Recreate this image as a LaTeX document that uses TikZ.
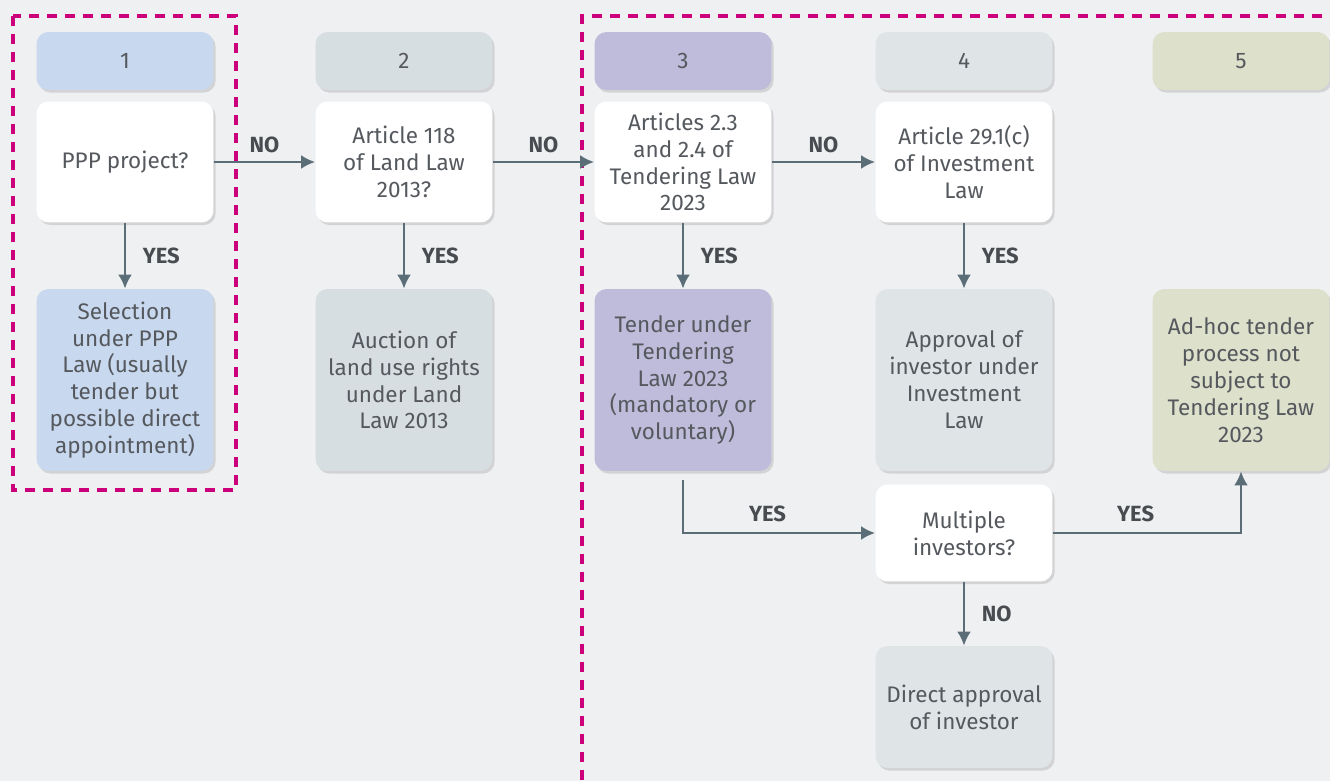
\documentclass[tikz,border=0pt]{standalone}
\usepackage{fontspec}
\setmainfont{Fira Sans}
\usetikzlibrary{arrows.meta,shadows}

\definecolor{pagebg}{HTML}{EFF0F2}
\definecolor{colone}{HTML}{C8D8EE}
\definecolor{coltwo}{HTML}{D7DEE2}
\definecolor{colthree}{HTML}{BFBBDA}
\definecolor{colfour}{HTML}{DFE5E7}
\definecolor{colfive}{HTML}{DDE0CB}
\definecolor{linkgray}{HTML}{5B6E78}
\definecolor{frame}{HTML}{CC007A}
\definecolor{txtgray}{HTML}{55595E}

\begin{document}
\begin{tikzpicture}[x=0.02cm,y=-0.02cm,
    every node/.style={text=txtgray,font=\fontsize{12.8}{15.3}\selectfont},
    box/.style={rounded corners=0.24cm,minimum width=3.54cm,align=center,
      inner sep=0pt,drop shadow={shadow xshift=1.2pt,shadow yshift=-1.5pt,opacity=0.25}},
    head/.style={box,minimum height=1.16cm},
    ask/.style={box,fill=white,minimum height=2.42cm},
    result/.style={box,minimum height=3.64cm},
    arr/.style={draw=linkgray,line width=1.6pt,-{Latex[length=8pt,width=8pt]}},
    tag/.style={font=\fontsize{12.5}{15}\selectfont\bfseries,text=txtgray!85!black},
    zone/.style={draw=frame,line width=2.3pt,dash pattern=on 0.2cm off 0.16cm}]
  \useasboundingbox[fill=pagebg] (0,0) rectangle (1330,781);

  % dashed zones
  \draw[zone] (13,16) rectangle (236,490);
  \draw[zone] (1340,16) -- (582,16) -- (582,790);

  % column headers
  \node[head,fill=colone]   (h1) at (125,61)  {1};
  \node[head,fill=coltwo]   (h2) at (404,61)  {2};
  \node[head,fill=colthree] (h3) at (683,61)  {3};
  \node[head,fill=colfour]  (h4) at (964,61)  {4};
  \node[head,fill=colfive]  (h5) at (1241,61) {5};

  % questions
  \node[ask] (q1) at (125,162) {PPP project?};
  \node[ask] (q2) at (404,162) {Article 118\\of Land Law\\2013?};
  \node[ask] (q3) at (683,162) {Articles 2.3\\and 2.4 of\\Tendering Law\\2023};
  \node[ask] (q4) at (964,162) {Article 29.1(c)\\of Investment\\Law};

  % outcomes
  \node[result,fill=colone]   (r1) at (125,380)  {Selection\\under PPP\\Law (usually\\tender but\\possible direct\\appointment)};
  \node[result,fill=coltwo]   (r2) at (404,380)  {Auction of\\land use rights\\under Land\\Law 2013};
  \node[result,fill=colthree] (r3) at (683,380)  {Tender under\\Tendering\\Law 2023\\(mandatory or\\voluntary)};
  \node[result,fill=colfour]  (r4) at (964,380)  {Approval of\\investor under\\Investment\\Law};
  \node[result,fill=colfive]  (r5) at (1241,380) {Ad-hoc tender\\process not\\subject to\\Tendering Law\\2023};

  \node[ask,minimum height=1.94cm] (multi) at (964,533) {Multiple\\investors?};
  \node[result,fill=colfour,minimum height=2.44cm] (direct) at (964,707) {Direct approval\\of investor};
  \coordinate (tstart) at (683,480);

  % connectors
  \draw[arr] (q1) -- (q2) node[tag,midway,above=1pt] {NO};
  \draw[arr] (q2) -- (q3) node[tag,midway,above=1pt] {NO};
  \draw[arr] (q3) -- (q4) node[tag,midway,above=1pt] {NO};
  \foreach \i in {1,...,4}
    \draw[arr] (q\i) -- (r\i) node[tag,midway,right=6pt] {YES};
  \draw[arr] (tstart) |- (multi) node[tag,pos=0.72,above=2pt] {YES};
  \draw[arr] (multi) -| (r5) node[tag,pos=0.22,above=2pt] {YES};
  \draw[arr] (multi) -- (direct) node[tag,midway,right=6pt] {NO};
\end{tikzpicture}
\end{document}
